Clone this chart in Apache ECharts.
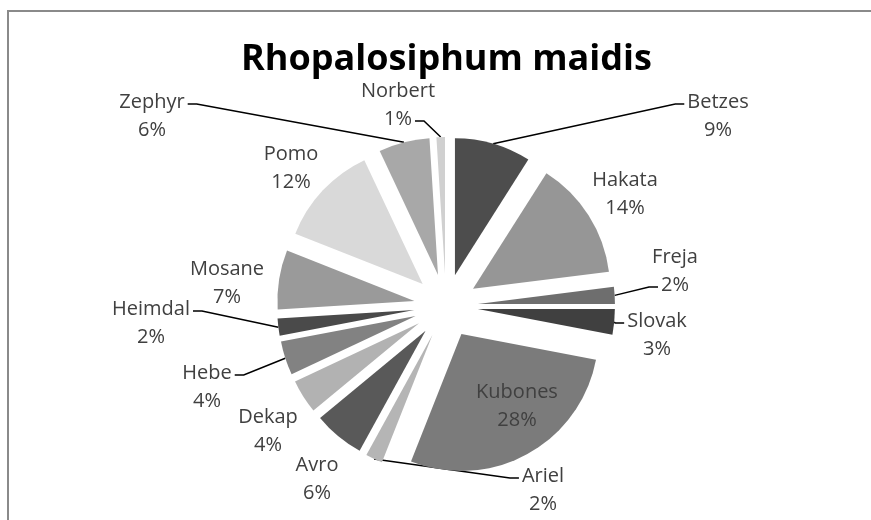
<!DOCTYPE html>
<html>
<head>
<meta charset="utf-8">
<script src="https://cdn.jsdelivr.net/npm/echarts@6/dist/echarts.min.js"></script>
<style>
  html, body { margin: 0; padding: 0; background: #fff; }
  #main { width: 871px; height: 520px; }
</style>
</head>
<body>
<div id="main"></div>
<script>
// 品种和百分比
var varieties = ['Betzes', 'Hakata', 'Freja', 'Slovak', 'Kubones', 'Ariel', 'Avro',
                 'Dekap', 'Hebe', 'Heimdal', 'Mosane', 'Pomo', 'Zephyr', 'Norbert'];
var shares = [9, 14, 2, 3, 28, 2, 6, 4, 4, 2, 7, 12, 6, 1];
var greys = ['#4d4d4d', '#969696', '#6e6e6e', '#404040', '#7b7b7b', '#b5b5b5', '#595959',
             '#b2b2b2', '#828282', '#4a4a4a', '#9a9a9a', '#d9d9d9', '#a8a8a8', '#d0d0d0'];

// 饼图的位置和大小
var CX = 446, CY = 306, R = 137, OFFSET = 32;
var FONT_SIZE = 20, LINE_H = 28;

// 标签放的位置（文字块中心），和 Excel 原图一样
var labelSpots = {
  Betzes: [718, 116], Hakata: [625, 194], Freja: [675, 271], Slovak: [657, 335],
  Kubones: [517, 406], Ariel: [543, 490], Avro: [317, 479], Dekap: [268, 431],
  Hebe: [207, 387], Heimdal: [151, 323], Mosane: [227, 283], Pomo: [291, 168],
  Zephyr: [152, 116], Norbert: [398, 105]
};
// 引导线接在哪一行文字、哪一边（没写的就没有引导线）
var labelHooks = {
  Betzes: [0, 'left'], Freja: [1, 'left'], Slovak: [0, 'left'], Ariel: [0, 'left'],
  Hebe: [0, 'right'], Heimdal: [0, 'right'], Zephyr: [0, 'right'], Norbert: [1, 'right']
};

// 每块的中间角度（从12点钟方向顺时针）
var total = shares.reduce(function (a, b) { return a + b; }, 0);
var cum = 0;
var midAngles = shares.map(function (v) {
  var a = (cum + v / 2) / total * 2 * Math.PI;
  cum += v;
  return a;
});

var measure = document.createElement('canvas').getContext('2d');
measure.font = FONT_SIZE + 'px "Open Sans"';

var chartDom = document.getElementById('main');
var myChart = echarts.init(chartDom);

var pieData = varieties.map(function (name, i) {
  var item = {
    name: name,
    value: shares[i],
    selected: true,
    itemStyle: { color: greys[i] }
  };
  if (!labelHooks[name]) {
    item.labelLine = { show: false };
  }
  if (name === 'Kubones') {
    item.label = { position: 'inner' };
  }
  return item;
});

var option = {
  animation: false,
  graphic: [{
    type: 'rect',
    shape: { x: 8, y: 11, width: 900, height: 600 },
    style: { fill: 'none', stroke: '#8a8a8a', lineWidth: 2 }
  }],
  title: {
    text: 'Rhopalosiphum maidis',
    left: 236,
    top: 37,
    textStyle: {
      fontFamily: 'Open Sans',
      fontWeight: 'bold',
      fontSize: 36,
      color: '#000'
    }
  },
  series: [{
    type: 'pie',
    center: [CX, CY],
    radius: R,
    startAngle: 90,
    clockwise: true,
    selectedMode: 'multiple',
    selectedOffset: OFFSET,
    emphasis: { disabled: true },
    itemStyle: { borderWidth: 0 },
    label: {
      show: true,
      position: 'outside',
      formatter: '{b}\n{d}%',
      fontFamily: 'Open Sans',
      fontSize: FONT_SIZE,
      lineHeight: LINE_H,
      color: '#404040'
    },
    labelLine: {
      show: true,
      length: 18,
      length2: 14,
      lineStyle: { color: '#000', width: 1.5 }
    },
    labelLayout: function (params) {
      var i = params.dataIndex;
      var name = varieties[i];
      var spot = labelSpots[name];
      var r = params.labelRect;
      var a = midAngles[i];
      // 选中后扇区整体平移，标签和线也跟着平移，这里扣掉
      var tx = OFFSET * Math.sin(a), ty = -OFFSET * Math.cos(a);
      // 饼图外侧标签原来是左对齐/右对齐，改成居中
      var anchor;
      if (name === 'Kubones') {
        anchor = r.x + r.width / 2;
      } else if (Math.sin(a) < 0) {
        anchor = r.x + r.width;
      } else {
        anchor = r.x;
      }
      var res = {
        dx: spot[0] - anchor - tx,
        dy: spot[1] - (r.y + r.height / 2) - ty,
        align: 'center',
        hideOverlap: false,
        moveOverlap: false
      };
      var hook = labelHooks[name];
      if (hook) {
        var lines = [name, shares[i] + '%'];
        var w = measure.measureText(lines[hook[0]]).width;
        var hx = hook[1] === 'left' ? spot[0] - w / 2 - 3 : spot[0] + w / 2 + 3;
        var hy = spot[1] + (hook[0] - 0.5) * LINE_H + 2;
        var p0 = [CX + R * Math.sin(a), CY - R * Math.cos(a)];
        var p2 = [hx - tx, hy - ty];
        var p1 = [p2[0] + (hook[1] === 'left' ? -9 : 9), p2[1]];
        res.labelLinePoints = [p0, p1, p2];
      }
      return res;
    },
    data: pieData
  }]
};

myChart.setOption(option);
</script>
</body>
</html>
